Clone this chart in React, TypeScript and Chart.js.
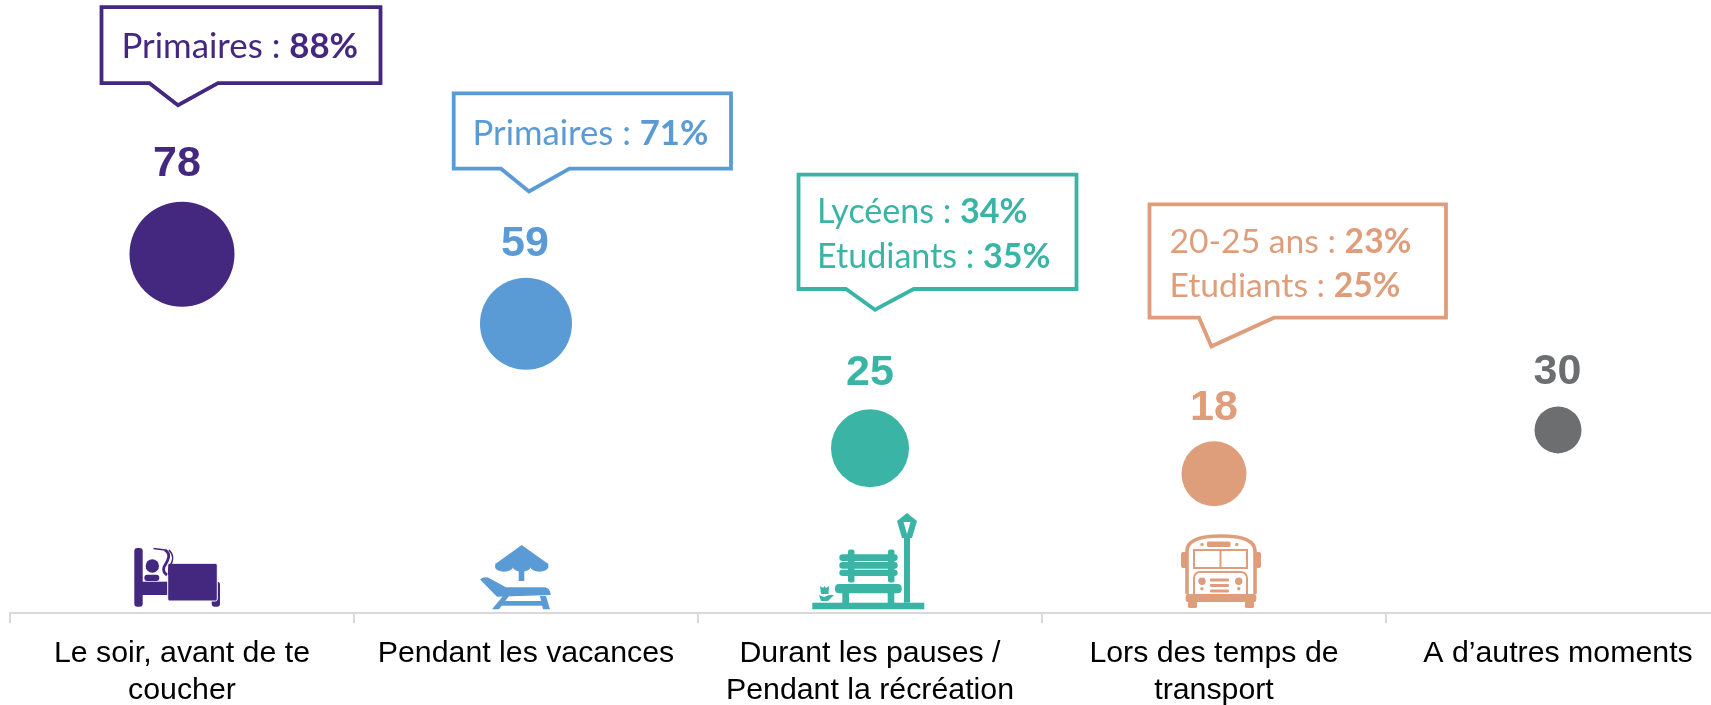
import React, { useEffect, useRef } from "react";
import { Chart, registerables } from "chart.js";

Chart.register(...registerables);

const categories: string[][] = [
  ["Le soir, avant de te", "coucher"],
  ["Pendant les vacances"],
  ["Durant les pauses /", "Pendant la récréation"],
  ["Lors des temps de", "transport"],
  ["A d’autres moments"],
];
const values = [78, 59, 25, 18, 30];
const bubbleSizes = [52.5, 46, 39, 32.5, 23.5];
const colors = ["#44277F", "#5B9BD5", "#3AB5A5", "#DF9E7B", "#6C6E70"];
const calloutPrefixes = [["Primaires : "], ["Primaires : "], ["Lycéens : ", "Etudiants : "], ["20-25 ans : ", "Etudiants : "]];
const calloutValues = [["88%"], ["71%"], ["34%", "35%"], ["23%", "25%"]];

const valueLabelLayout = [
  { dx: -5, dy: -89.5 },
  { dx: -1, dy: -79.5 },
  { dx: 0, dy: -75 },
  { dx: 0, dy: -65.5 },
  { dx: -0.5, dy: -57.5 },
];
const calloutLayout = [
  { l: -80.5, r: 198.5, t: -247, b: -171, pl: -32.5, tx: -4, ty: -149, pr: 36, text: -60.5, base: [-196], size: 34.8 },
  { l: -72.3, r: 205, t: -230.3, b: -155, pl: -25, tx: 3, ty: -132.3, pr: 43.5, text: -53.5, base: [-178.5], size: 34.7 },
  { l: -71.5, r: 206.5, t: -273.5, b: -159.2, pl: -24, tx: 5, ty: -138.5, pr: 43.7, text: -53, base: [-225.5, -180.5], size: 34.1 },
  { l: -64.5, r: 232, t: -269.5, b: -156.2, pl: -15, tx: -2.6, ty: -127.5, pr: 60, text: -44.5, base: [-221, -176.5], size: 33.7 },
];

type C = CanvasRenderingContext2D;
const rr = (c: C, x0: number, y0: number, x1: number, y1: number, r: number) => {
  c.beginPath();
  c.roundRect(x0, y0, x1 - x0, y1 - y0, r);
  c.fill();
};
const poly = (c: C, pts: number[][]) => {
  c.beginPath();
  pts.forEach((p, i) => (i ? c.lineTo(p[0], p[1]) : c.moveTo(p[0], p[1])));
  c.closePath();
  c.fill();
};
const dot = (c: C, x: number, y: number, r: number) => {
  c.beginPath();
  c.arc(x, y, r, 0, Math.PI * 2);
  c.fill();
};

// Icons use local coordinates: origin at category centre on the axis line.
const drawBed = (c: C, col: string) => {
  c.fillStyle = col;
  rr(c, -47.7, -65, -39.3, -6.3, 3);
  c.fillRect(-40, -31.3, 30, 13.3);
  dot(c, -29.7, -47, 6.7);
  rr(c, -37.7, -38.3, -22.7, -32, 3);
  rr(c, 29.7, -31.3, 38, -6.3, 3);
  c.strokeStyle = "#fff";
  c.lineWidth = 1;
  c.fillStyle = col;
  c.beginPath();
  c.roundRect(-14.3, -49.7, 49.6, 37.7, 2);
  c.fill();
  c.stroke();
  c.strokeStyle = col;
  c.lineWidth = 1.4;
  c.beginPath();
  c.moveTo(-28.5, -64.5);
  c.lineTo(-17, -63);
  c.stroke();
  c.lineWidth = 2.8;
  c.beginPath();
  c.moveTo(-17, -63);
  c.bezierCurveTo(-9, -58, -16, -50, -18, -46);
  c.bezierCurveTo(-19, -43, -18, -40, -15, -38);
  c.stroke();
  c.lineWidth = 1.6;
  c.beginPath();
  c.moveTo(-13, -63);
  c.bezierCurveTo(-7, -57, -10, -50, -12, -47);
  c.bezierCurveTo(-14, -44, -13, -40, -13, -38);
  c.stroke();
};
const drawLounger = (c: C, col: string) => {
  c.fillStyle = col;
  c.beginPath();
  c.moveTo(-4.3, -68);
  c.lineTo(22.3, -49);
  c.lineTo(-30.7, -49);
  c.closePath();
  c.fill();
  c.fillRect(-30.7, -49.5, 53, 4);
  [-22, -4.3, 13.4].forEach((x) => {
    c.beginPath();
    c.ellipse(x, -46, 8.9, 4.7, 0, 0, Math.PI * 2);
    c.fill();
  });
  c.fillRect(-7.3, -42, 5.6, 10);
  c.beginPath();
  c.moveTo(-46, -33.5);
  c.quadraticCurveTo(-43, -36.5, -38, -35.5);
  c.lineTo(-20, -25.7);
  c.lineTo(19, -25.7);
  c.quadraticCurveTo(24, -25, 24.7, -18);
  c.lineTo(-29, -16.3);
  c.closePath();
  c.fill();
  poly(c, [[-23, -17], [-17, -17], [-27, -3.7], [-34, -3.7]]);
  poly(c, [[14, -17], [20, -17], [24, -3.7], [17, -3.7]]);
  c.fillRect(-25, -12, 43, 4.7);
};
const drawBench = (c: C, col: string) => {
  c.fillStyle = col;
  c.fillRect(-57.7, -10.3, 112, 6.6);
  c.fillRect(34, -76.3, 6, 66);
  poly(c, [[37, -100], [47, -92], [42, -75], [32, -75], [27, -92]]);
  c.fillStyle = "#fff";
  poly(c, [[33.5, -91], [40.5, -91], [37, -79]]);
  c.fillStyle = col;
  rr(c, -35, -29, 31.7, -19.7, 4);
  c.fillRect(-27.7, -20, 6.7, 10);
  c.fillRect(17.7, -20, 6.6, 10);
  rr(c, -22, -63.5, -15.5, -30.5, 2);
  rr(c, 18, -63.5, 24.5, -30.5, 2);
  rr(c, -30.7, -58.7, 27.7, -52, 3.3);
  rr(c, -30.7, -51, 27.7, -44.3, 3.3);
  rr(c, -30.7, -43.3, 27.7, -37, 3.2);
  poly(c, [[-50, -27], [-47, -25], [-45.5, -27], [-44, -25], [-41, -27], [-41.5, -19], [-49, -19]]);
  poly(c, [[-51, -18], [-46, -16], [-41, -18], [-36, -18], [-42, -12], [-49, -12]]);
};
const drawBus = (c: C, col: string) => {
  c.strokeStyle = col;
  c.fillStyle = col;
  c.lineWidth = 3.6;
  c.beginPath();
  c.moveTo(-27, -19);
  c.lineTo(-27, -62);
  c.bezierCurveTo(-27, -72, -15, -77, 7, -77);
  c.bezierCurveTo(29, -77, 41, -72, 41, -62);
  c.lineTo(41, -19);
  c.stroke();
  rr(c, -33, -61, -27, -45, 2);
  rr(c, 41, -61, 47, -45, 2);
  rr(c, -28.3, -19, 42.3, -11, 2);
  rr(c, -26, -12, -17, -5, 1.5);
  rr(c, 31, -12, 40, -5, 1.5);
  c.lineWidth = 2;
  c.strokeRect(-20, -63, 53, 18);
  c.beginPath();
  c.moveTo(6.5, -63);
  c.lineTo(6.5, -45);
  c.stroke();
  rr(c, -7, -71.5, 16.5, -66, 1.5);
  dot(c, -12, -68.5, 1.7);
  dot(c, 22.7, -68.5, 1.7);
  c.beginPath();
  c.roundRect(-20, -41, 53, 24, [6, 6, 0, 0]);
  c.stroke();
  dot(c, -12, -31.7, 3.7);
  dot(c, 24.7, -31.7, 3.7);
  dot(c, -12, -24.3, 1.7);
  dot(c, 24.7, -24.3, 1.7);
  rr(c, -4, -34.5, 15, -31.5, 1);
  rr(c, -4, -29, 15, -26, 1);
  rr(c, -4, -23.5, 15, -20.5, 1);
};
const icons = [drawBed, drawLounger, drawBench, drawBus];

const decorations = {
  id: "decorations",
  afterDatasetsDraw(chart: any) {
    const c: C = chart.ctx;
    const pts = chart.getDatasetMeta(0).data;
    const xs = chart.scales.x;
    const axisY = chart.chartArea.bottom;
    c.save();
    c.textAlign = "center";
    c.textBaseline = "middle";
    c.font = "bold 43px 'Liberation Sans'";
    values.forEach((v, i) => {
      c.fillStyle = colors[i];
      c.fillText(String(v), pts[i].x + valueLabelLayout[i].dx, pts[i].y + valueLabelLayout[i].dy);
    });
    c.textAlign = "left";
    c.textBaseline = "alphabetic";
    calloutLayout.forEach((o, i) => {
      c.save();
      c.translate(pts[i].x, pts[i].y);
      c.strokeStyle = colors[i];
      c.lineWidth = 3.8;
      c.lineJoin = "miter";
      c.beginPath();
      c.moveTo(o.l, o.t);
      c.lineTo(o.r, o.t);
      c.lineTo(o.r, o.b);
      c.lineTo(o.pr, o.b);
      c.lineTo(o.tx, o.ty);
      c.lineTo(o.pl, o.b);
      c.lineTo(o.l, o.b);
      c.closePath();
      c.stroke();
      c.fillStyle = colors[i];
      o.base.forEach((b, j) => {
        c.font = `${o.size}px Lato`;
        const p = calloutPrefixes[i][j];
        c.fillText(p, o.text, b);
        const w = c.measureText(p).width;
        c.font = `bold ${o.size}px Lato`;
        c.fillText(calloutValues[i][j], o.text + w, b);
      });
      c.restore();
    });
    icons.forEach((fn, i) => {
      c.save();
      c.translate(xs.getPixelForValue(i), axisY);
      fn(c, colors[i]);
      c.restore();
    });
    c.restore();
  },
};

export default function App() {
  const ref = useRef<HTMLCanvasElement>(null);
  useEffect(() => {
    const chart = new Chart(ref.current!, {
      type: "bubble",
      data: {
        labels: categories as any,
        datasets: [
          {
            data: values.map((v, i) => ({ x: i, y: v, r: bubbleSizes[i] })),
            backgroundColor: colors,
            borderWidth: 0,
          },
        ],
      },
      options: {
        responsive: false,
        animation: false,
        layout: { autoPadding: false, padding: { left: 10, right: 0, top: 0, bottom: 0 } },
        plugins: { legend: { display: false }, tooltip: { enabled: false } },
        scales: {
          x: {
            type: "category",
            offset: true,
            grid: { display: true, drawOnChartArea: false, drawTicks: true, tickLength: 10, color: "#D9D9D9", lineWidth: 2, offset: true },
            border: { color: "#D9D9D9", width: 2 },
            ticks: {
              autoSkip: false,
              maxRotation: 0,
              minRotation: 0,
              padding: 12,
              color: "#000",
              font: { family: "'Liberation Sans'", size: 30.3, lineHeight: 1.23 },
            },
            afterFit: (s: any) => {
              s.height = 92;
            },
          },
          y: { display: false, min: -20, max: 147.4 },
        },
      } as any,
      plugins: [decorations],
    } as any);
    return () => chart.destroy();
  }, []);
  return (
    <div style={{ width: 1711, height: 705, overflow: "hidden", position: "relative" }}>
      <style>{"body{margin:0;overflow:hidden;background:#fff}"}</style>
      <canvas ref={ref} width={1730} height={705} style={{ display: "block" }} />
    </div>
  );
}
